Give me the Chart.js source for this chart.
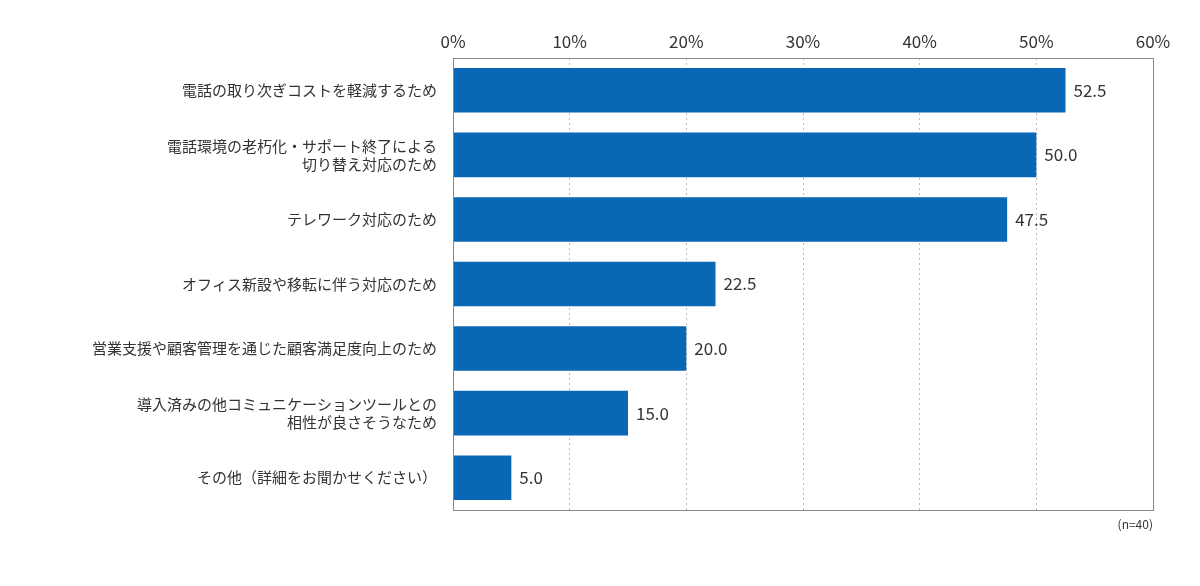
<!DOCTYPE html>
<html><head><meta charset="utf-8">
<script src="https://cdn.jsdelivr.net/npm/chart.js@4"></script>
<style>body{margin:0;background:#fff}#wrap{width:1200px;height:586px;position:relative}</style>
</head><body><div id="wrap"><canvas id="c"></canvas></div>
<script>
// データ
const categories = [
  '電話の取り次ぎコストを軽減するため',
  ['電話環境の老朽化・サポート終了による', '切り替え対応のため'],
  'テレワーク対応のため',
  'オフィス新設や移転に伴う対応のため',
  '営業支援や顧客管理を通じた顧客満足度向上のため',
  ['導入済みの他コミュニケーションツールとの', '相性が良さそうなため'],
  'その他（詳細をお聞かせください）'
];
const values = [52.5, 50.0, 47.5, 22.5, 20.0, 15.0, 5.0];
const FONT = '"Noto Sans CJK JP", "Noto Sans", sans-serif';

// 値ラベルと枠線、(n=40)
const labelPlugin = {
  id: 'labels',
  afterDatasetsDraw(chart) {
    const c = chart.ctx;
    const meta = chart.getDatasetMeta(0);
    c.save();
    c.font = '17px ' + FONT;
    c.fillStyle = '#333';
    c.textBaseline = 'middle';
    meta.data.forEach((bar, i) => {
      c.fillText(values[i].toFixed(1), bar.x + 8, bar.y);
    });
    const a = chart.chartArea;
    c.strokeStyle = '#888';
    c.lineWidth = 1;
    c.strokeRect(a.left + 0.5, a.top + 0.5, a.right - a.left, a.bottom - a.top);
    c.font = '12px ' + FONT;
    c.textAlign = 'right';
    c.fillText('(n=40)', a.right, a.bottom + 14);
    c.restore();
  }
};

new Chart(document.getElementById('c'), {
  type: 'bar',
  data: {
    labels: categories,
    datasets: [{
      data: values,
      backgroundColor: '#0a67b6',
      barPercentage: 0.69,
      categoryPercentage: 1
    }]
  },
  options: {
    indexAxis: 'y',
    responsive: true,
    maintainAspectRatio: false,
    animation: false,
    layout: { padding: { right: 47, bottom: 76 } },
    scales: {
      x: {
        position: 'top',
        min: 0, max: 60,
        ticks: { stepSize: 10, color: '#333', font: { size: 17, family: FONT }, callback: v => v + '%', padding: 6 },
        grid: { color: '#bbb', drawTicks: false, borderDash: [2, 2] },
        border: { display: false, dash: [2, 3] },
        afterFit: s => { s.height = 58; }
      },
      y: {
        ticks: { color: '#333', font: { size: 15, family: FONT }, padding: 8 },
        grid: { display: false },
        border: { display: false },
        afterFit: s => { s.width = 453; }
      }
    },
    plugins: { legend: { display: false }, tooltip: { enabled: false } }
  },
  plugins: [labelPlugin]
});
</script></body></html>
